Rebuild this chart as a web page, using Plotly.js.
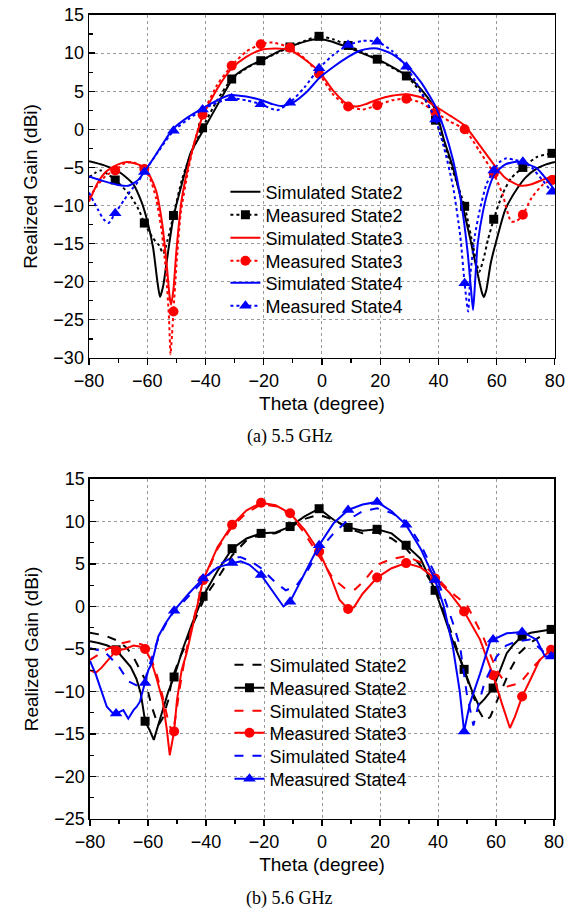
<!DOCTYPE html>
<html>
<head>
<meta charset="utf-8">
<script src="https://cdn.plot.ly/plotly-3.0.1.min.js"></script>
<style>
html,body{margin:0;padding:0;background:#fff;}
#chart{width:578px;height:913px;}
</style>
</head>
<body>
<div id="chart"></div>
<script>
// ---------- common ----------
const markTheta = [-71,-61,-51,-41,-31,-21,-11,-1,9,19,29,39,49,59,69,79];
const legendNames = ["Simulated State2","Measured State2","Simulated State3","Measured State3","Simulated State4","Measured State4"];
const captionA = "(a) 5.5 GHz";
const captionB = "(b) 5.6 GHz";

// ---------- (a) 5.5 GHz ----------
const a_sim2_x = [-80,-75,-70,-65,-62,-60,-58,-56.5,-55.6,-54.5,-53,-51,-48,-45,-41,-35,-30,-25,-20,-15,-10,-5,-2,0,5,10,15,20,25,30,35,39,42,45,48,51,53.5,55,55.6,56.5,58,60,63,67,70,74,77,80];
const a_sim2_y = [-4.2,-4.7,-5.5,-7.1,-9.5,-12.0,-15.5,-20,-22,-20.5,-16.5,-11.5,-7.0,-3.0,-0.3,3.8,7.0,8.3,9.2,10.2,11.0,11.6,11.8,11.8,11.3,10.6,9.8,9.0,8.0,6.8,4.8,2.5,-1.5,-5.0,-9.5,-14.5,-19,-21.5,-22,-21,-17.5,-14.5,-10.5,-7.8,-6.3,-5.1,-4.6,-4.3];

const a_meas2_x = [-80,-76,-71,-66,-63,-61,-58,-56,-54.5,-53,-51,-48,-45,-41,-36,-31,-26,-21,-16,-11,-6,-1,4,9,14,19,24,29,34,39,42,45,49,52,54,55.5,57,59,62,65,69,74,79,80];
const a_meas2_y = [-6.3,-5.4,-6.65,-8.6,-10.5,-12.3,-14.3,-15.2,-16.3,-14.5,-11.3,-6.5,-3.2,0.2,3.8,6.6,8.0,9.0,9.9,10.8,11.6,12.2,11.8,11.0,10.1,9.2,8.1,7.0,4.8,1.2,-2.0,-5.5,-10.1,-15.5,-18.7,-17,-14.5,-11.8,-8.5,-6.4,-5.0,-3.6,-3.15,-3.1];

const a_sim3_x = [-80,-77,-74,-70,-67,-64,-61,-59,-57,-55,-53.5,-52.3,-51.8,-51,-50,-48.2,-46,-44,-41,-36,-31,-26,-21,-16,-11,-6,-1,4,9,12,15,19,24,29,34,39,44,49,54,59,63,68,72,76,80];
const a_sim3_y = [-9.5,-7.0,-5.5,-4.6,-4.3,-4.5,-5.0,-6.2,-8.0,-12.0,-17,-22,-23,-21,-16,-9.3,-5.0,-2.0,1.65,5.3,8.0,9.5,10.4,10.6,10.4,9.2,7.6,5.0,3.2,3.0,3.3,3.9,4.4,4.6,4.2,3.0,1.8,0.5,-2.0,-4.6,-6.4,-7.4,-7.2,-6.6,-6.1];

const a_meas3_x = [-80,-77,-74,-71,-68,-65,-61,-59,-57,-55,-53.5,-52.5,-52,-51.5,-51,-50,-48.5,-46,-44,-41,-36,-31,-26,-21,-17,-11,-6,-1,4,9,14,19,24,29,34,39,44,49,54,59,62,65,67,69,72,76,79,80];
const a_meas3_y = [-9.0,-7.3,-6.0,-5.4,-4.5,-4.3,-5.2,-6.5,-9.0,-13.5,-19,-25,-29.5,-27,-23.9,-18,-11,-5.5,-2.0,1.9,5.8,8.35,10.2,11.15,11.4,10.7,9.3,7.3,4.5,3.0,2.6,3.15,3.8,4.0,3.5,2.2,1.0,0.0,-2.8,-5.8,-8.5,-12.1,-12.0,-11.2,-9.0,-7.2,-6.65,-6.6];

const a_sim4_x = [-80,-75,-70,-66.5,-63,-60.7,-57,-54,-51,-46,-41,-36,-31.6,-26,-21,-17,-13.8,-10,-5,-1,4,9,13,16.5,19,24,29,34,39,42,45,48,50,51.2,51.9,52.6,53.5,55.4,57.5,59.4,63,66.8,70,73.7,77,80];
const a_sim4_y = [-6.2,-6.8,-7.3,-7.4,-6.6,-5.4,-3.3,-1.5,0.1,1.6,2.75,3.8,4.5,4.3,3.85,3.3,3.05,3.5,5.0,6.7,8.2,9.5,10.3,10.6,10.6,9.9,8.4,6.2,3.0,0.0,-4.0,-10,-16,-21,-23.7,-20,-15,-10.6,-7.5,-5.8,-4.6,-4.25,-4.5,-5.1,-6.5,-8.0];

const a_meas4_x = [-80,-77,-75,-73.3,-71,-68,-66,-63,-61,-56,-51,-46,-41,-36,-31,-26,-21,-15.5,-11,-6,-1,4,9,14,19,24,29,34,39,42,45,47.5,49,50.2,51,52.5,54.2,56.5,59,61,63.4,66,69,72,76,79,80];
const a_meas4_y = [-8.3,-10.5,-11.8,-12.3,-11.0,-9.3,-8.2,-6.8,-5.6,-2.8,-0.2,1.3,2.6,3.5,4.07,3.8,3.3,2.5,3.5,5.5,8.0,9.8,11.06,11.6,11.5,10.3,8.2,5.0,1.3,-2.5,-7.5,-14,-20.2,-23.9,-19,-14,-10.6,-7.2,-5.4,-4.3,-3.8,-4.0,-4.25,-5.0,-6.8,-8.2,-8.4];

// ---------- (b) 5.6 GHz ----------
const b_sim2_x = [-80,-75,-70,-67,-64.5,-61,-58.7,-56.5,-55,-53,-51.8,-49,-47.2,-44,-40.3,-36,-31,-26,-21,-16,-11,-6,-1,4,9,14,19,24,29,34,39,42,45,48,51,54,56.2,58,61,64.8,68,71.7,76,80];
const b_sim2_y = [-3.1,-3.4,-4.1,-5.0,-6.3,-8.6,-11.8,-14.0,-13.2,-11.0,-8.6,-6.0,-4.7,-1.7,1.15,3.3,6.0,7.8,8.5,8.6,9.3,10.3,10.8,10.2,9.2,8.6,8.7,8.0,6.8,4.8,2.2,-0.5,-3.5,-6.5,-9.5,-12.2,-13.5,-13.0,-10.5,-7.5,-5.5,-4.3,-3.4,-2.8];

const b_meas2_x = [-80,-77,-74,-71,-68,-66,-64,-62.5,-61,-59.5,-58,-56,-53,-51,-48,-45,-41,-36,-31,-26,-21,-16,-11,-6,-1,4,9,14,19,24,29,34,39,42,45,49,52,54,56,59,61.5,63.7,66,69,72,75,79,80];
const b_meas2_y = [-4.1,-4.3,-4.6,-5.1,-6.3,-7.1,-8.5,-10.2,-13.5,-14.5,-15.7,-13.5,-10.0,-8.3,-5.0,-2.2,1.2,4.2,6.8,8.0,8.6,8.7,9.4,10.6,11.5,10.2,9.3,8.9,9.08,8.6,7.2,5.6,1.9,-1.0,-4.0,-7.4,-10.2,-11.6,-10.9,-9.6,-7.3,-5.5,-4.5,-3.5,-3.1,-2.9,-2.7,-2.7];

const b_sim3_x = [-80,-77,-74,-70,-66,-62,-59,-57,-55,-53,-51.5,-50.5,-49,-47,-45,-41,-36,-31,-26,-21,-16,-11,-6,-1,4,8,11.4,15,19,24,29,34,39,44,49.9,55.6,60.2,64,68.3,72.9,78,80];
const b_sim3_y = [-6.3,-5.6,-5.0,-4.4,-4.1,-4.5,-6.0,-8.0,-10.5,-13.5,-15.0,-13.0,-9.5,-5.5,-2.5,3.0,6.8,9.4,11.0,12.0,11.8,10.8,8.6,5.9,3.2,2.1,2.0,3.2,4.9,5.6,5.9,5.2,3.6,1.8,0.2,-3.6,-7.5,-9.4,-9.0,-7.1,-5.3,-5.0];

const b_meas3_x = [-80,-78,-76,-73,-71,-68,-65,-63,-61,-59,-57,-55,-53.5,-52.5,-51,-50,-48.4,-46.7,-44,-41,-36,-31,-26,-21,-16,-11,-6,-1,3,6,9,11,14,19,24,29,34,39,44,49,54.5,59,62,64.8,66.5,69,72,75,79,80];
const b_meas3_y = [-7.5,-7.8,-7.2,-6.0,-5.2,-5.0,-4.6,-4.7,-5.0,-6.3,-8.5,-11.0,-14.5,-17.5,-14.7,-11.0,-7.5,-5.5,-1.5,3.1,7.0,9.6,11.3,12.2,11.9,10.96,9.0,6.45,3.5,0.8,-0.3,-0.1,1.5,3.4,4.5,5.1,4.6,3.3,1.6,-0.6,-3.9,-8.1,-11.4,-14.3,-13.0,-10.6,-8.5,-6.3,-5.1,-5.0];

const b_sim4_x = [-80,-75,-70,-66.8,-63.3,-61,-59.3,-56.5,-53,-51,-46,-41,-36,-31,-28,-24,-21,-16,-12.5,-9,-5,-1,4,9,14,19,24,29,34,39,42.4,45,47.6,49.9,52.2,54,56,60.2,63.5,67.1,71.7,76.3,80];
const b_sim4_y = [-4.9,-5.3,-7.1,-8.8,-9.4,-8.6,-6.7,-3.8,-1.5,-0.6,1.2,3.0,4.8,5.8,5.8,5.2,4.5,2.8,1.9,2.4,4.2,6.6,8.6,10.2,11.2,11.55,11.0,10.0,7.3,3.8,0.8,-1.8,-4.7,-10.2,-14.0,-11.5,-9.0,-5.9,-4.6,-4.1,-3.9,-5.3,-5.5];

const b_meas4_x = [-80,-78,-76.6,-74.2,-72,-71,-68.5,-66.8,-65,-63.9,-62.8,-61,-59.9,-58.7,-56.4,-54,-51,-46,-41,-36,-31,-28,-25,-21,-15.6,-13.3,-11,-6,-1,4,9,14,19,24,29,34,39,42,45,47.5,49,51,54.5,57.9,59,63.7,69,74,76.9,79,80];
const b_meas4_y = [-6.4,-8.0,-9.4,-11.8,-12.6,-12.6,-12.2,-13.2,-12.2,-11.8,-11.2,-9.0,-7.5,-6.7,-3.5,-2.0,-0.5,1.5,3.3,4.6,5.1,5.3,4.9,3.7,1.2,0.0,0.56,3.8,7.2,9.8,11.35,12.0,12.3,11.2,9.6,6.8,3.1,0.0,-4.5,-10.0,-14.7,-11.4,-7.9,-4.2,-3.9,-3.15,-3.0,-3.9,-5.9,-5.9,-5.8];

// ---------- build ----------
const BLACK = "#000000", RED = "#ff0000", BLUE = "#0000ff";
function sizesFor(xs, s){ return xs.map(v => markTheta.indexOf(v) >= 0 ? s : 0); }

function simTrace(x, y, color, dash, xa, ya, shape){
  return {x:x, y:y, xaxis:xa, yaxis:ya, mode:"lines", showlegend:false, hoverinfo:"skip",
          line:{color:color, width:2, dash:dash, shape:shape, smoothing:0.6}};
}
function measTrace(x, y, color, dash, symbol, msize, xa, ya, shape){
  return {x:x, y:y, xaxis:xa, yaxis:ya, mode:"lines+markers", showlegend:false, hoverinfo:"skip",
          line:{color:color, width:2, dash:dash, shape:shape, smoothing:0.6},
          marker:{color:color, opacity:1, symbol:symbol, size:sizesFor(x, msize), line:{width:0}}};
}
function legendEntry(name, color, dash, symbol, msize, legend, withMarker){
  const t = {x:[null], y:[null], name:name, legend:legend, mode: withMarker ? "lines+markers" : "lines",
             line:{color:color, width:2, dash:dash}, hoverinfo:"skip"};
  if(withMarker){ t.marker = {color:color, opacity:1, symbol:symbol, size:msize, line:{width:0}}; }
  return t;
}

const data = [
  // (a)
  simTrace(a_sim2_x, a_sim2_y, BLACK, "solid", "x", "y", "spline"),
  measTrace(a_meas2_x, a_meas2_y, BLACK, "dot", "square", 9, "x", "y", "spline"),
  simTrace(a_sim3_x, a_sim3_y, RED, "solid", "x", "y", "spline"),
  measTrace(a_meas3_x, a_meas3_y, RED, "dot", "circle", 10, "x", "y", "spline"),
  simTrace(a_sim4_x, a_sim4_y, BLUE, "solid", "x", "y", "spline"),
  measTrace(a_meas4_x, a_meas4_y, BLUE, "dot", "triangle-up", 11, "x", "y", "spline"),
  // (b)
  simTrace(b_sim2_x, b_sim2_y, BLACK, "dash", "x2", "y2", "linear"),
  measTrace(b_meas2_x, b_meas2_y, BLACK, "solid", "square", 9, "x2", "y2", "linear"),
  simTrace(b_sim3_x, b_sim3_y, RED, "dash", "x2", "y2", "linear"),
  measTrace(b_meas3_x, b_meas3_y, RED, "solid", "circle", 10, "x2", "y2", "linear"),
  simTrace(b_sim4_x, b_sim4_y, BLUE, "dash", "x2", "y2", "linear"),
  measTrace(b_meas4_x, b_meas4_y, BLUE, "solid", "triangle-up", 11, "x2", "y2", "linear"),
  // legend (a) - one legend per row
  legendEntry(legendNames[0], BLACK, "solid", null, 0, "legend", false),
  legendEntry(legendNames[1], BLACK, "dot", "square", 9, "legend2", true),
  legendEntry(legendNames[2], RED, "solid", null, 0, "legend3", false),
  legendEntry(legendNames[3], RED, "dot", "circle", 10, "legend4", true),
  legendEntry(legendNames[4], BLUE, "solid", null, 0, "legend5", false),
  legendEntry(legendNames[5], BLUE, "dot", "triangle-up", 11, "legend6", true),
  // legend (b)
  legendEntry(legendNames[0], BLACK, "dash", null, 0, "legend7", false),
  legendEntry(legendNames[1], BLACK, "solid", "square", 9, "legend8", true),
  legendEntry(legendNames[2], RED, "dash", null, 0, "legend9", false),
  legendEntry(legendNames[3], RED, "solid", "circle", 10, "legend10", true),
  legendEntry(legendNames[4], BLUE, "dash", null, 0, "legend11", false),
  legendEntry(legendNames[5], BLUE, "solid", "triangle-up", 11, "legend12", true)
];

const FONT = "Liberation Sans, Arial, sans-serif";
function xAxis(domain, anchor){
  return {domain:domain, anchor:anchor, range:[-80,80], dtick:20, tick0:0,
    showline:true, mirror:true, linecolor:"#000", linewidth:1.5,
    ticks:"outside", ticklen:6, tickwidth:1.2, tickcolor:"#000",
    minor:{dtick:10, ticks:"outside", ticklen:4, tickwidth:1.2, tickcolor:"#000", showgrid:false},
    showgrid:true, gridcolor:"#9a9a9a", griddash:"dot", gridwidth:1, zeroline:false,
    tickfont:{family:FONT, size:18, color:"#000"}, automargin:false,
    title:{text:"Theta (degree)", font:{family:FONT, size:19, color:"#000"}, standoff:6}};
}
function yAxis(domain, anchor, range){
  return {domain:domain, anchor:anchor, range:range, dtick:5, tick0:0,
    showline:true, mirror:true, linecolor:"#000", linewidth:1.5,
    ticks:"inside", ticklen:6, tickwidth:1.2, tickcolor:"#000",
    minor:{dtick:2.5, ticks:"inside", ticklen:4, tickwidth:1.2, tickcolor:"#000", showgrid:false},
    showgrid:true, gridcolor:"#9a9a9a", griddash:"dot", gridwidth:1, zeroline:false,
    tickfont:{family:FONT, size:18, color:"#000"}, automargin:false,
    title:{text:"Realized Gain (dBi)", font:{family:FONT, size:19, color:"#000"}, standoff:10}};
}

const layout = {
  width:578, height:913,
  margin:{l:0, r:0, t:0, b:0},
  paper_bgcolor:"#fff", plot_bgcolor:"#fff",
  font:{family:FONT, color:"#000"},
  xaxis: xAxis([0.154, 0.960], "y"),
  yaxis: yAxis([0.6079, 0.9836], "x", [-30, 15]),
  xaxis2: xAxis([0.1557, 0.9585], "y2"),
  yaxis2: yAxis([0.103, 0.4754], "x2", [-25, 15]),
  annotations:[
    {text:captionA, xref:"paper", yref:"paper", x:289/578, y:1-436/913, xanchor:"center", yanchor:"middle",
     showarrow:false, font:{family:"Liberation Serif, Times New Roman, serif", size:18, color:"#000"}},
    {text:captionB, xref:"paper", yref:"paper", x:289/578, y:1-898/913, xanchor:"center", yanchor:"middle",
     showarrow:false, font:{family:"Liberation Serif, Times New Roman, serif", size:18, color:"#000"}}
  ]
};

// legend boxes: one per row so row spacing can follow the reference
const rowsA = [192, 215, 238, 261, 283, 306];
const rowsB = [665, 688, 711, 733, 756, 779];
const legNames = ["legend","legend2","legend3","legend4","legend5","legend6","legend7","legend8","legend9","legend10","legend11","legend12"];
legNames.forEach((ln, i) => {
  const rowY = i < 6 ? rowsA[i] : rowsB[i-6];
  const lx = i < 6 ? 0.390 : 0.397;
  layout[ln] = {x:lx, y:1-rowY/913, xanchor:"left", yanchor:"middle", bgcolor:"rgba(0,0,0,0)",
                borderwidth:0, font:{family:FONT, size:18, color:"#000"}};
});

Plotly.newPlot("chart", data, layout, {staticPlot:true, displayModeBar:false});
</script>
</body>
</html>
